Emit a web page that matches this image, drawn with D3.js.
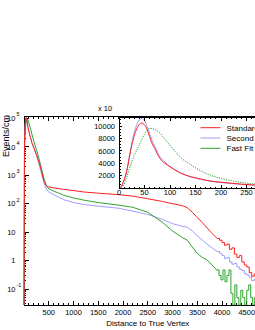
<!DOCTYPE html>
<html>
<head>
<meta charset="utf-8">
<script src="https://cdn.jsdelivr.net/npm/d3@7/dist/d3.min.js"></script>
<style>
  body { margin: 0; background: #fff; }
  svg { display: block; font-family: "Liberation Sans", Arial, sans-serif; }
</style>
</head>
<body>
<div id="chart"></div>
<script>
// ---- main plot data (events/cm vs distance, log y) ----
const distMain = [0, 10, 20, 30, 45, 60, 80, 100, 130, 160, 200, 250, 300, 350, 400, 450, 500, 600, 800, 1000,
  1200, 1500, 1900, 2200, 2500, 2800, 3000, 3200, 3300, 3400, 3500, 3600, 3700, 3800, 3900];
const standardMain = [0, 13000, 48000, 85000, 105000, 83000, 48000, 34000, 22000, 14000, 9300, 5500, 3000, 1500, 650, 430, 390, 360, 320, 290,
  260, 235, 210, 185, 150, 120, 100, 86, 72, 50, 33, 22, 14, 9, 6];
const secondMain = [0, 15000, 50000, 90000, 112000, 88000, 51000, 35000, 21000, 13000, 8800, 5000, 2600, 1200, 550, 330, 260, 210, 140, 110,
  95, 82, 70, 55, 42, 28, 20, 16, 15, 11, 7.5, 5.3, 3.8, 2.8, 2.1];
const fastMain = [0, 6000, 30000, 53000, 79000, 96000, 89000, 69000, 45000, 28000, 15500, 8000, 4000, 1800, 800, 450, 330, 280, 200, 160,
  135, 110, 90, 75, 50, 22, 11, 6.5, 5.2, 3, 1.8, 1.3, 1.05, 0.7, 0.45];

// tails (histogram bins)
const tailDist = [3900, 3950, 4000, 4050, 4100, 4150, 4200, 4250, 4300, 4350, 4400, 4450, 4500, 4550, 4600, 4650, 4700, 4750];
const standardTail = [6, 5.2, 4.3, 3.5, 3.8, 2.5, 2.8, 1.7, 1.3, 1.5, 0.9, 0.7, 0.6, 0.38, 0.28, 0.34, 0.2, 0.24];
const secondTail = [2.1, 1.8, 1.5, 1.2, 1.3, 0.9, 0.75, 0.8, 0.6, 0.5, 0.45, 0.35, 0.31, 0.26, 0.2, 0.22, 0.16, 0.18];
const fastTailDist = [3900, 3940, 3980, 4020, 4060, 4100, 4140, 4180, 4220, 4260, 4300, 4340, 4380, 4420, 4460, 4500,
  4540, 4580, 4620, 4660, 4700, 4740];
const fastTail = [0.47, 0.3, 0.21, 0.47, 0.18, 0.3, 0.47, 0.07, 0, 0.14, 0.05, 0, 0.09, 0.05, 0, 0.09,
  0.14, 0.05, 0, 0.05, 0.09, 0];

// ---- inset data (linear, x 10) ----
const insetDist = [0, 5, 10, 15, 20, 25, 30, 35, 40, 45, 50, 55, 60, 65, 70, 80, 90, 100, 120, 140, 160, 180, 200, 220, 240, 260, 280, 300];
const standardInset = [0, 300, 1300, 2630, 4800, 6900, 8500, 9600, 10300, 10500, 10200, 9500, 8300, 7200, 6400, 4800, 4000, 3430,
  2450, 1850, 1450, 1120, 930, 780, 620, 510, 420, 350];
const secondInset = [0, 350, 1400, 2800, 5000, 7200, 9000, 10300, 11000, 11240, 10900, 10000, 8800, 7700, 6800, 5100, 4200, 3500,
  2450, 1800, 1400, 1080, 880, 720, 590, 480, 400, 330];
const fastInset = [0, 100, 600, 1700, 3000, 4200, 5300, 6130, 7000, 7900, 8700, 9300, 9630, 9600, 9450, 8900, 7900, 6900,
  5000, 3800, 2800, 2050, 1550, 1200, 900, 680, 540, 430];

const seriesNames = ['Standard', 'Second', 'Fast Fit'];
const seriesColors = ['#ff1f1f', '#9d9dff', '#2ca42c'];

const xTicksMain = [500, 1000, 1500, 2000, 2500, 3000, 3500, 4000, 4500];
const yTickVals = [1e-1, 1, 10, 1e2, 1e3, 1e4, 1e5];
const yTickBase = ['10', '1', '10', '10', '10', '10', '10'];
const yTickExp = ['-1', '', '', '2', '3', '4', '5'];
const xTicksInset = [0, 50, 100, 150, 200, 250];
const yTicksInset = [2000, 4000, 6000, 8000, 10000];

const svg = d3.select('#chart').append('svg')
  .attr('width', 255)
  .attr('height', 330);

// ---- scales ----
const x = d3.scaleLinear().domain([0, 5000]).range([24, 271.5]),
  y = d3.scaleLog().domain([0.0275, 1.17e5]).range([305, 116.5]),
  yv = v => v > 0 ? Math.min(y(v), 305) : 305,
  xi = d3.scaleLinear().domain([0, 300]).range([119, 272]),
  yi = d3.scaleLinear().domain([0, 11400]).range([188, 117.5]);

const steps = (ds, vs, w) => ds.flatMap((d, i) => [[d, vs[i]], [d + w, vs[i]]]);
const zip = (ds, vs) => ds.map((d, i) => [d, vs[i]]);

const mainLine = d3.line().x(p => x(p[0])).y(p => yv(p[1]));
const insetLine = d3.line().x(p => xi(p[0])).y(p => yi(p[1])).curve(d3.curveMonotoneX);

// ---- main frame ----
svg.append('defs').append('clipPath').attr('id', 'mainClip')
  .append('rect').attr('x', 22).attr('y', 116).attr('width', 252).attr('height', 189.5);
svg.append('defs').append('clipPath').attr('id', 'insetClip')
  .append('rect').attr('x', 119).attr('y', 117.5).attr('width', 153).attr('height', 70.5);

const axes = svg.append('g').attr('stroke', '#000').attr('stroke-width', 1).attr('shape-rendering', 'crispEdges');
axes.append('rect')
  .attr('x', 24).attr('y', 116.5).attr('width', 247.5).attr('height', 188.5)
  .attr('fill', 'none');

// x ticks (major every 500, minor every 100), bottom and top
d3.range(100, 5000, 100).forEach(v => {
  const len = v % 500 === 0 ? 4 : 2;
  axes.append('line').attr('x1', x(v)).attr('x2', x(v)).attr('y1', 305).attr('y2', 305 - len);
  axes.append('line').attr('x1', x(v)).attr('x2', x(v)).attr('y1', 116.5).attr('y2', 116.5 + len);
});
// y log ticks
d3.range(-2, 6).forEach(e => {
  d3.range(1, 10).forEach(m => {
    const v = m * Math.pow(10, e);
    if (v < y.domain()[0] || v > y.domain()[1]) return;
    const len = m === 1 ? 4.5 : 2;
    axes.append('line').attr('x1', 24).attr('x2', 24 + len).attr('y1', y(v)).attr('y2', y(v));
  });
});

svg.append('g').attr('font-size', 7.5).attr('text-anchor', 'middle')
  .selectAll('text').data(xTicksMain).enter().append('text')
  .attr('x', d => x(d)).attr('y', 314.5).text(d => d);

const yl = svg.append('g').attr('font-size', 7.5);
yl.selectAll('text.base').data(yTickVals).enter().append('text')
  .attr('class', 'base').attr('text-anchor', 'end')
  .attr('x', 15.5).attr('y', d => y(d) + 2.7)
  .text((d, i) => yTickBase[i]);
yl.selectAll('text.exp').data(yTickVals).enter().append('text')
  .attr('class', 'exp').attr('font-size', 5.5)
  .attr('x', 16.5).attr('y', d => y(d) - 2.2)
  .text((d, i) => yTickExp[i]);

svg.append('text').attr('font-size', 8).attr('text-anchor', 'middle')
  .attr('x', (x(0) + x(5000)) / 2).attr('y', 326)
  .text('Distance to True Vertex');
svg.append('text').attr('font-size', 9).attr('text-anchor', 'end')
  .attr('transform', 'translate(8.5,115) rotate(-90)')
  .text('Events/cm');

// ---- main curves ----
const mainG = svg.append('g').attr('clip-path', 'url(#mainClip)').attr('fill', 'none').attr('stroke-width', 1);
const mainSeries = [
  zip(distMain, secondMain).concat(steps(tailDist, secondTail, 50)),
  zip(distMain, fastMain).concat(steps(fastTailDist, fastTail, 40)),
  zip(distMain, standardMain).concat(steps(tailDist, standardTail, 50))
];
const mainColors = [seriesColors[1], seriesColors[2], seriesColors[0]];
mainG.selectAll('path').data(mainSeries).enter().append('path')
  .attr('d', mainLine)
  .attr('stroke', (d, i) => mainColors[i]);

// ---- inset ----
svg.append('rect').attr('x', 119).attr('y', 117.5).attr('width', 153).attr('height', 70.5).attr('fill', '#fff');

const insetG = svg.append('g').attr('clip-path', 'url(#insetClip)').attr('fill', 'none').attr('stroke-width', 1);
insetG.append('path').datum(zip(insetDist, fastInset)).attr('d', insetLine)
  .attr('stroke', seriesColors[2]).attr('stroke-dasharray', '1.2,1.2');
insetG.append('path').datum(zip(insetDist, secondInset)).attr('d', insetLine)
  .attr('stroke', seriesColors[1]);
insetG.append('path').datum(zip(insetDist, standardInset)).attr('d', insetLine)
  .attr('stroke', seriesColors[0]);

const iaxes = svg.append('g').attr('stroke', '#000').attr('stroke-width', 1).attr('shape-rendering', 'crispEdges');
iaxes.append('rect').attr('x', 119).attr('y', 117.5).attr('width', 153).attr('height', 70.5).attr('fill', 'none');
d3.range(10, 300, 10).forEach(v => {
  const len = v % 50 === 0 ? 3 : 1.5;
  iaxes.append('line').attr('x1', xi(v)).attr('x2', xi(v)).attr('y1', 188).attr('y2', 188 - len);
  iaxes.append('line').attr('x1', xi(v)).attr('x2', xi(v)).attr('y1', 117.5).attr('y2', 117.5 + len);
});
d3.range(500, 11400, 500).forEach(v => {
  const len = v % 2000 === 0 ? 3 : 1.5;
  iaxes.append('line').attr('x1', 119).attr('x2', 119 + len).attr('y1', yi(v)).attr('y2', yi(v));
});

svg.append('g').attr('font-size', 7.5).attr('text-anchor', 'middle')
  .selectAll('text').data(xTicksInset).enter().append('text')
  .attr('x', d => xi(d)).attr('y', 194.5).text(d => d);
svg.append('g').attr('font-size', 7.5).attr('text-anchor', 'end')
  .selectAll('text').data(yTicksInset).enter().append('text')
  .attr('x', 115).attr('y', d => yi(d) + 2.7).text(d => d);
svg.append('text').attr('font-size', 7.5).attr('x', 98).attr('y', 110.5).text('x 10');

// legend
const leg = svg.append('g').selectAll('g').data(seriesNames).enter().append('g')
  .attr('transform', (d, i) => `translate(0,${127.7 + i * 10.3})`);
leg.append('line').attr('x1', 200.5).attr('x2', 220.5).attr('y1', 0).attr('y2', 0)
  .attr('stroke', (d, i) => seriesColors[i]).attr('stroke-width', 1);
leg.append('text').attr('x', 226.5).attr('y', 2.8).attr('font-size', 8).text(d => d);
</script>
</body>
</html>
